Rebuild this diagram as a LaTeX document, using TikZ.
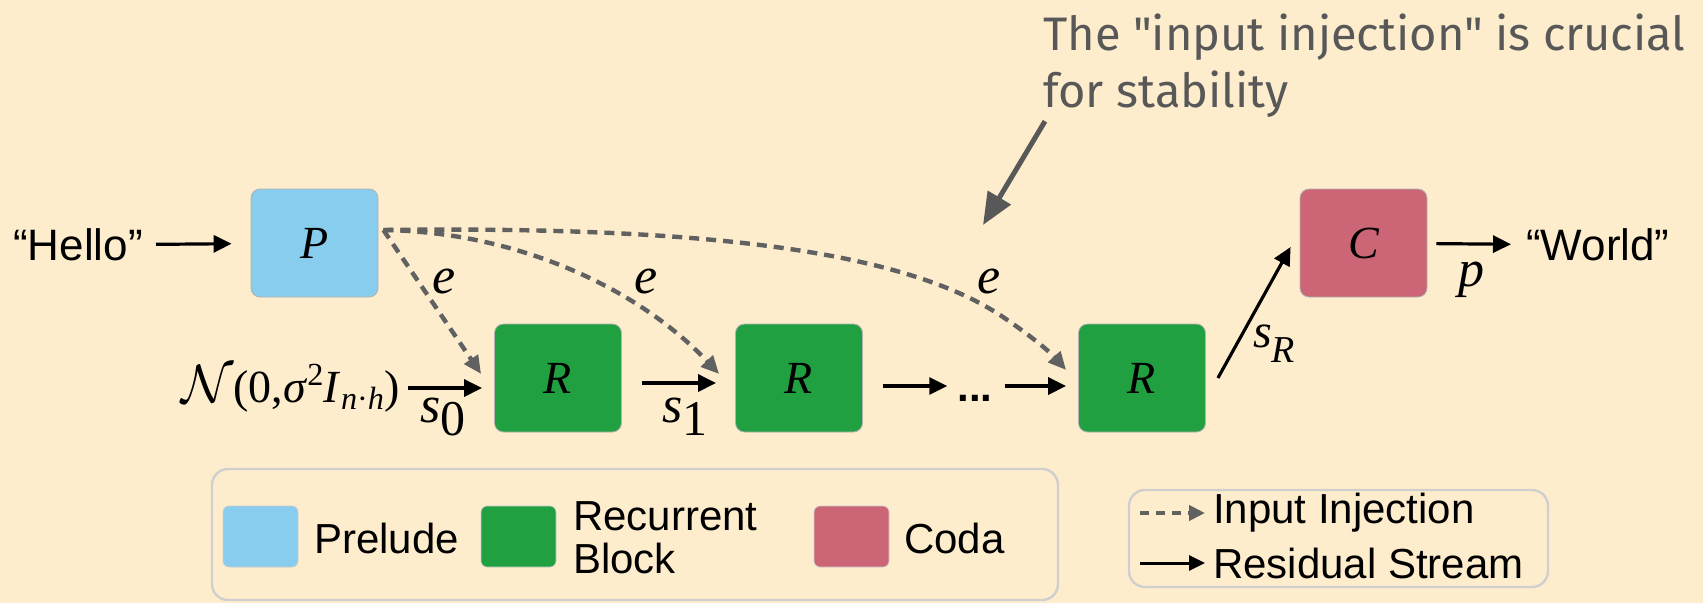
\RequirePackage{fix-cm}
\documentclass[tikz,border=0pt]{standalone}
\usepackage{fontspec}
\setmainfont{Liberation Sans}
\newfontfamily\serif{Liberation Serif}
\newfontfamily\fira{Fira Sans}
\usetikzlibrary{arrows.meta}

\definecolor{bgcream}{HTML}{FEEDCD}
\definecolor{prelude}{HTML}{88CCEE}
\definecolor{recur}{HTML}{21A042}
\definecolor{coda}{HTML}{CC6677}
\definecolor{injgray}{HTML}{616161}
\definecolor{notegray}{HTML}{585858}
\definecolor{framegray}{HTML}{CFCFCF}

\newcommand{\blocklabel}[1]{\serif\itshape\fontsize{46}{50}\selectfont #1}
\newcommand{\lowsub}[3]{#1\raisebox{-#3}{#2}}

\tikzset{
  block/.style={draw=black!30, line width=0.8pt, rounded corners=9pt,
    minimum width=127pt, minimum height=108pt, inner sep=0pt},
  swatch/.style={draw=black!20, line width=0.6pt, rounded corners=6pt,
    minimum width=75pt, minimum height=61pt, inner sep=0pt},
  word/.style={inner sep=0pt, font=\fontsize{42}{43}\selectfont},
  bigword/.style={inner sep=0pt, font=\fontsize{44}{46}\selectfont},
  sym/.style={inner sep=0pt, anchor=base west, font=\serif\itshape\fontsize{52}{56}\selectfont},
  notetext/.style={inner sep=0pt, anchor=base west, text=notegray,
    font=\fira\fontsize{47}{57}\selectfont},
  res/.style={line width=3.2pt, -{Triangle[length=18pt,width=17pt]}},
  inj/.style={injgray, line width=4.4pt, dash pattern=on 10pt off 7pt,
    -{Triangle[length=18pt,width=16pt]}},
  legframe/.style={framegray, line width=2.4pt, rounded corners=16pt},
}

\begin{document}
\begin{tikzpicture}[x=1pt,y=-1pt]
\useasboundingbox (0,0) rectangle (1703,603);
\fill[bgcream] (0,0) rectangle (1703,603);

% blocks
\node[block, fill=prelude] (P)  at (314.5,243)  {\blocklabel{P}};
\node[block, fill=recur]   (R1) at (558,378)    {\blocklabel{R}};
\node[block, fill=recur]   (R2) at (799,378)    {\blocklabel{R}};
\node[block, fill=recur]   (R3) at (1142,378)   {\blocklabel{R}};
\node[block, fill=coda]    (C)  at (1363.5,243) {\blocklabel{C}};

% inputs and outputs
\node[bigword, anchor=east] (hello) at (143,245) {“Hello”};
\node[bigword, anchor=west] (world) at (1526,245) {“World”};
\node[inner sep=0pt, anchor=east, font=\serif\fontsize{46}{50}\selectfont] (noise) at (400,388)
  {{\fontsize{54}{58}\selectfont$\mathcal{N}$}(0,\textit{σ}\textsuperscript{2}\textit{I}\textsubscript{\textit{n}·\textit{h}})};
\node[inner sep=0pt, font=\bfseries\fontsize{42}{44}\selectfont] (dots) at (975,398) {...};

% residual stream
\draw[res, shorten <=13pt, shorten >=19pt] (hello) -- (P);
\draw[res, shorten <=8pt, shorten >=12pt] (noise) -- (noise -| R1.west);
\draw[res, shorten <=20pt, shorten >=19pt] ([yshift=-5pt]R1.east) -- ([yshift=-5pt]R2.west);
\draw[res, shorten <=20pt, shorten >=10pt] ([yshift=-8pt]R2.east) -- (dots.west |- 0,386);
\draw[res, shorten <=12pt, shorten >=12pt] (dots.east |- 0,386) -- ([yshift=-8pt]R3.west);
\draw[res] ([xshift=12pt]R3.east) -- ([xshift=-9pt,yshift=-4pt]C.west);
\draw[res, shorten <=9pt, shorten >=15pt] (C) -- (world);

% stream labels
\node[sym] (s0) at (420,422) {\lowsub{s}{\upshape\fontsize{50}{52}\selectfont 0}{13pt}};
\node[sym] (s1) at (662,422) {\lowsub{s}{\upshape\fontsize{50}{52}\selectfont 1}{13pt}};
\node[sym, font=\serif\itshape\fontsize{48}{52}\selectfont] (sR) at (1253,347)
  {\lowsub{s}{\fontsize{38}{40}\selectfont R}{15pt}};
\node[sym, font=\serif\itshape\fontsize{52}{56}\selectfont] (pl) at (1458,286) {p};

% input injection
\coordinate (Pout) at ([xshift=5pt,yshift=13pt]P.east);
\draw[inj] (Pout) -- ([xshift=-13pt,yshift=4pt]R1.west);
\draw[inj] (Pout) .. controls (520,232) and (640,290) .. ([xshift=-16pt,yshift=4pt]R2.west);
\draw[inj] (Pout) .. controls (700,226) and (900,250) .. (1000,315)
  .. controls (1030,335) and (1050,352) .. ([xshift=-12pt,yshift=8pt]R3.west);
\node[sym] (e1) at (432,293) {e};
\node[sym] (e2) at (634,293) {e};
\node[sym] (e3) at (977,293) {e};

% annotation
\node[notetext] (note1) at (1043,50) {The "input injection" is crucial};
\node[notetext] (note2) at (1043,107) {for stability};
\draw[notegray, line width=5pt, -{Triangle[length=32pt,width=26pt]}]
  ([xshift=2pt,yshift=-4pt]note2.south west) -- (983,225);

% legend: blocks
\draw[legframe] (212,469) rectangle (1058,600);
\node[swatch, fill=prelude] (kp) at (260.5,536.5) {};
\node[word, anchor=west] (kpt) at (314,538) {Prelude};
\node[swatch, fill=recur] (kr) at (518.5,536.5) {};
\node[word, anchor=west, align=left] (krt) at (573,538) {Recurrent\\Block};
\node[swatch, fill=coda] (kc) at (851.5,536.5) {};
\node[word, anchor=west] (kct) at (904,538) {Coda};

% legend: connectors
\draw[legframe] (1129,490) rectangle (1548,587);
\node[word, anchor=west] (kit) at (1213,513) {Input Injection};
\node[word, anchor=west] (kst) at (1213,563) {Residual Stream};
\coordinate (kia) at (1140,513);
\coordinate (ksa) at (1140,563);
\draw[injgray, line width=4pt, dash pattern=on 9pt off 7pt, -{Triangle[length=16pt,width=15pt]}]
  (kia) -- ([xshift=-8pt]kit.west);
\draw[line width=3pt, -{Triangle[length=16pt,width=15pt]}] (ksa) -- ([xshift=-8pt]kst.west);
\end{tikzpicture}
\end{document}
